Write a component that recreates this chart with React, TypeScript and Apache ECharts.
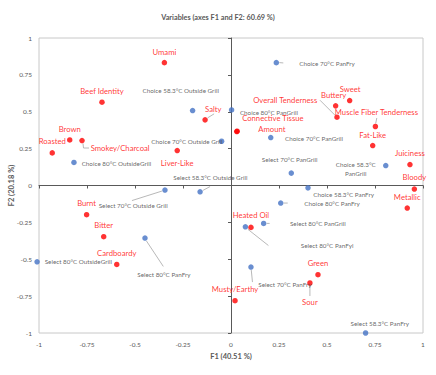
import React, { useEffect, useRef } from "react";
import * as echarts from "echarts";

// Attributes (red)
const attrNames = [
  "Umami", "Beef Identity", "Brown", "Smokey/Charcoal", "Roasted", "Salty", "Liver-Like",
  "Connective Tissue", "Amount", "Overall Tenderness", "Buttery", "Sweet",
  "Muscle Fiber Tenderness", "Fat-Like", "Juiciness", "Bloody", "Metallic",
  "Burnt", "Bitter", "Cardboardy", "Heated Oil", "Green", "Sour", "Musty/Earthy",
];
const attrX = [
  -0.347, -0.672, -0.84, -0.776, -0.931, -0.135, -0.28,
  0.032, 0.03, 0.552, 0.545, 0.618,
  0.752, 0.738, 0.932, 0.955, 0.918,
  -0.752, -0.663, -0.595, 0.104, 0.453, 0.411, 0.021,
];
const attrY = [
  0.833, 0.565, 0.309, 0.305, 0.221, 0.445, 0.237,
  0.368, 0.366, 0.463, 0.54, 0.576,
  0.4, 0.271, 0.142, -0.024, -0.153,
  -0.198, -0.347, -0.535, -0.284, -0.605, -0.661, -0.781,
];

// Samples (blue)
const sampleNames = [
  "Choice 70°C PanFry", "Choice 58.3°C Outside Grill", "Choice 80°C PanGrill",
  "Choice 70°C PanGrill", "Choice 70°C Outside Grill", "Choice 80°C OutsideGrill",
  "Select 70°C PanGrill", "Choice 58.3°C\nPanGrill", "Choice 58.3°C PanFry",
  "Choice 80°C PanFry", "Select 70°C Outside Grill", "Select 58.3°C Outside Grill",
  "Select 80°C PanGrill", "Select 80°C PanFyl", "Select 80°C PanFry",
  "Select 70°C PanFry", "Select 80°C OutsideGrill", "Select 58.3°C PanFry",
];
const sampleX = [
  0.236, -0.2, 0.003,
  0.207, -0.049, -0.818,
  0.314, 0.806, 0.401,
  0.259, -0.344, -0.161,
  0.17, 0.075, -0.448,
  0.104, -1.01, 0.701,
];
const sampleY = [
  0.833, 0.508, 0.512,
  0.325, 0.3, 0.156,
  0.084, 0.135, -0.016,
  -0.119, -0.031, -0.043,
  -0.257, -0.28, -0.356,
  -0.553, -0.517, -1.0,
];

const axisMin = -1;
const axisMax = 1;
const axisStep = 0.25;

// label placement: [dx, dy, align] relative to the point, in px
const labelPlace: Record<string, [number, number, string]> = {
  "Umami": [0, -11, "center"],
  "Beef Identity": [0, -11, "center"],
  "Brown": [0, -11, "center"],
  "Smokey/Charcoal": [8.7, 7.6, "left"],
  "Roasted": [0, -12, "center"],
  "Salty": [0, -11.3, "left"],
  "Liver-Like": [0, 12.6, "center"],
  "Connective Tissue": [5, -13, "left"],
  "Amount": [21.6, -3, "left"],
  "Overall Tenderness": [-19.7, -17, "right"],
  "Buttery": [-2, -11, "center"],
  "Sweet": [0.5, -11.5, "center"],
  "Muscle Fiber Tenderness": [1, -15, "center"],
  "Fat-Like": [0, -11, "center"],
  "Juiciness": [0, -11.4, "center"],
  "Bloody": [0, -12, "center"],
  "Metallic": [0, -11.3, "center"],
  "Burnt": [0, -11.7, "center"],
  "Bitter": [0, -11.3, "center"],
  "Cardboardy": [0, -11, "center"],
  "Heated Oil": [0, -12, "center"],
  "Green": [0, -11.7, "center"],
  "Sour": [0, 19, "center"],
  "Musty/Earthy": [0, -11.3, "center"],
  "Choice 70°C PanFry": [23, 0.6, "left"],
  "Choice 58.3°C Outside Grill": [26.3, -19.7, "right"],
  "Choice 80°C PanGrill": [8.3, 2.7, "left"],
  "Choice 70°C PanGrill": [14.3, 1, "left"],
  "Choice 70°C Outside Grill": [1, 0, "right"],
  "Choice 80°C OutsideGrill": [7.7, 1, "left"],
  "Select 70°C PanGrill": [-1.6, -13.3, "center"],
  "Choice 58.3°C\nPanGrill": [-30, 3.5, "center"],
  "Choice 58.3°C PanFry": [5.3, 7, "left"],
  "Choice 80°C PanFry": [23.6, 0, "left"],
  "Select 70°C Outside Grill": [2.7, 15.7, "right"],
  "Select 58.3°C Outside Grill": [10.3, -14.7, "center"],
  "Select 80°C PanGrill": [26.3, 0.3, "left"],
  "Select 80°C PanFyl": [55.4, 19, "left"],
  "Select 80°C PanFry": [-7.7, 36, "left"],
  "Select 70°C PanFry": [7.3, 17.4, "left"],
  "Select 80°C OutsideGrill": [7.6, 0, "left"],
  "Select 58.3°C PanFry": [-15, -9.4, "left"],
};

// leader lines: polyline offsets relative to the point, in px
const leaders: Record<string, number[][]> = {
  "Smokey/Charcoal": [[1, 3], [1.5, 7.5], [7, 7.5]],
  "Salty": [[2.5, -2], [9, -6]],
  "Overall Tenderness": [[-2, -2], [-17, -17]],
  "Muscle Fiber Tenderness": [[0.3, -3], [1.4, -8.5]],
  "Sour": [[0, 3], [0, 13]],
  "Choice 70°C PanFry": [[3, 0], [7, 0.3]],
  "Choice 80°C PanFry": [[3, 0], [7, 0]],
  "Select 80°C PanGrill": [[3, 0], [6, 0]],
  "Select 70°C Outside Grill": [[-3, 1], [-33, 10.5]],
  "Select 58.3°C Outside Grill": [[3, -1.5], [10, -5.3]],
  "Select 80°C PanFyl": [[2.5, 2.5], [23, 18.7]],
  "Select 80°C PanFry": [[1.5, 3], [18.3, 28.4]],
  "Select 70°C PanFry": [[0.3, 3], [1.5, 15]],
};

const FONT = "Lato";
const RED = "#ff0000";
const BLUE = "#4472c4";

function makeItems(names: string[], xs: number[], ys: number[], color: string, fontSize: number) {
  return names.map((n, i) => {
    const p = labelPlace[n] || [0, -11, "center"];
    return {
      value: [xs[i], ys[i]],
      name: n,
      label: {
        show: true,
        formatter: n,
        position: "inside",
        align: p[2],
        verticalAlign: "middle",
        offset: [p[0], p[1]],
        color,
        fontSize,
        fontFamily: FONT,
        lineHeight: fontSize + 2.5,
      },
    };
  });
}

export default function App() {
  const ref = useRef<HTMLDivElement>(null);
  useEffect(() => {
    document.body.style.margin = "0";
    if (!ref.current) return;
    const chart = echarts.init(ref.current, undefined, { renderer: "svg" });

    const leaderData: any[] = [];
    attrNames.forEach((n, i) => { if (leaders[n]) leaderData.push({ value: [attrX[i], attrY[i]], name: n }); });
    sampleNames.forEach((n, i) => { if (leaders[n]) leaderData.push({ value: [sampleX[i], sampleY[i]], name: n }); });

    const axisBase = { type: "value", min: axisMin, max: axisMax, interval: axisStep, splitLine: { show: false } };
    const tickLabel = { color: "#595959", fontSize: 6.5, fontFamily: FONT };

    chart.setOption({
      animation: false,
      title: {
        text: "Variables (axes F1 and F2: 60.69 %)",
        left: "center",
        top: 9,
        textStyle: { fontSize: 7.3, fontWeight: "bold", color: "#595959", fontFamily: FONT },
      },
      grid: {
        left: 39, right: 13, top: 38, bottom: 42,
        show: true, borderColor: "#c8c8c8", borderWidth: 1,
        outerBoundsMode: "none", containLabel: false,
      },
      xAxis: [
        {
          ...axisBase,
          position: "bottom",
          name: "F1 (40.51 %)",
          nameLocation: "middle",
          nameGap: 19,
          nameTextStyle: { fontSize: 7.5, fontWeight: "bold", color: "#595959", fontFamily: FONT },
          axisLine: { show: false, onZero: false },
          axisTick: { show: false },
          axisLabel: { ...tickLabel, margin: 8 },
        },
        {
          ...axisBase,
          position: "bottom",
          axisLine: { show: true, onZero: true, onZeroAxisIndex: 0, lineStyle: { color: "#595959", width: 1 } },
          axisTick: { show: true, length: 3, lineStyle: { color: "#595959" } },
          axisLabel: { show: false },
        },
      ],
      yAxis: [
        {
          ...axisBase,
          position: "left",
          name: "F2 (20.18 %)",
          nameLocation: "middle",
          nameRotate: 90,
          nameGap: 24,
          nameMoveOverlap: false,
          nameTextStyle: { fontSize: 7.5, fontWeight: "bold", color: "#595959", fontFamily: FONT },
          axisLine: { show: false, onZero: false },
          axisTick: { show: false },
          axisLabel: { ...tickLabel, margin: 7 },
        },
        {
          ...axisBase,
          position: "left",
          axisLine: { show: true, onZero: true, onZeroAxisIndex: 0, lineStyle: { color: "#595959", width: 1 } },
          axisTick: { show: true, length: 3, lineStyle: { color: "#595959" } },
          axisLabel: { show: false },
        },
      ],
      series: [
        {
          type: "custom",
          xAxisIndex: 0,
          yAxisIndex: 0,
          silent: true,
          clip: false,
          data: leaderData,
          renderItem: (params: any, api: any) => {
            const c = api.coord([api.value(0), api.value(1)]);
            const name = leaderData[params.dataIndex].name;
            const pts = leaders[name].map((d) => [c[0] + d[0], c[1] + d[1]]);
            return {
              type: "polyline",
              shape: { points: pts },
              style: { stroke: "#a6a6a6", lineWidth: 0.8, fill: "none" },
            };
          },
        },
        {
          type: "scatter",
          xAxisIndex: 0,
          yAxisIndex: 0,
          clip: false,
          symbolSize: 5.5,
          itemStyle: { color: BLUE },
          data: makeItems(sampleNames, sampleX, sampleY, "#404040", 6.3),
        },
        {
          type: "scatter",
          xAxisIndex: 0,
          yAxisIndex: 0,
          clip: false,
          symbolSize: 5.5,
          itemStyle: { color: RED },
          data: makeItems(attrNames, attrX, attrY, RED, 7.7),
        },
      ],
    });
    return () => chart.dispose();
  }, []);
  return <div ref={ref} style={{ width: 436, height: 375 }} />;
}
